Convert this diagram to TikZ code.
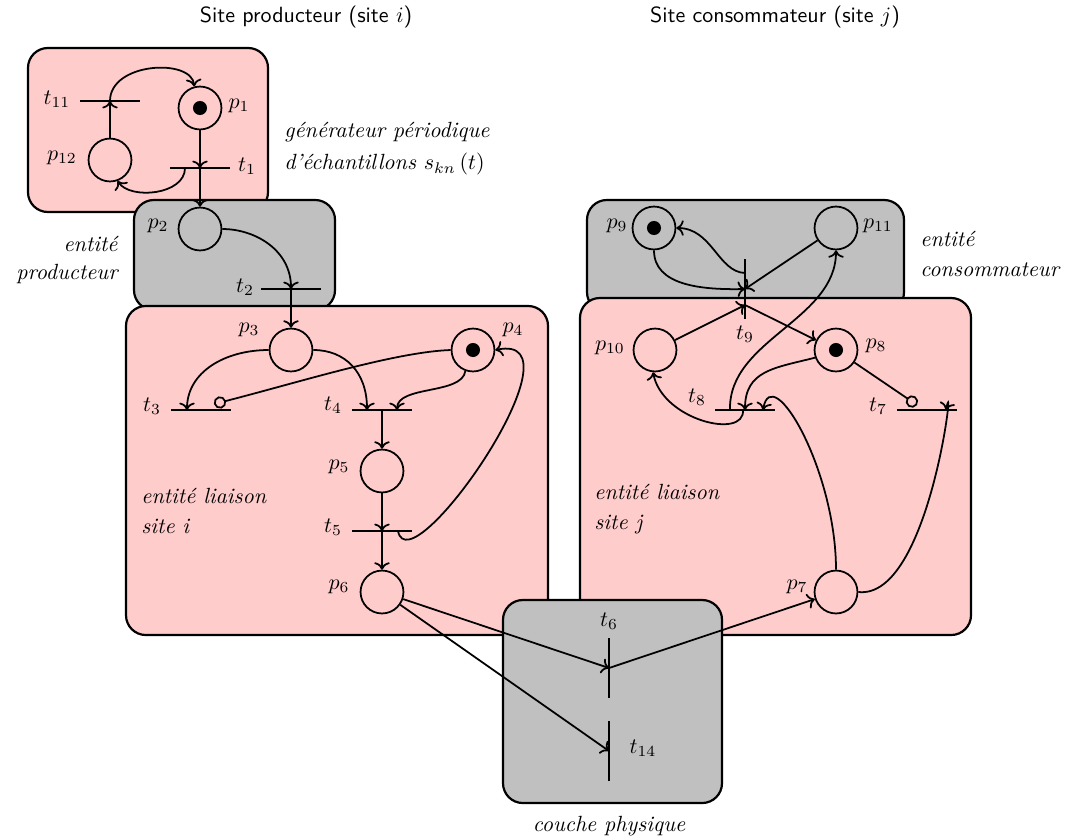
\documentclass[tikz,border=0pt]{standalone}
\usetikzlibrary{arrows.meta,calc}
\definecolor{pinkbg}{RGB}{255,204,204}
\definecolor{graybg}{RGB}{192,192,192}
\begin{document}
\begin{tikzpicture}[x=0.4545pt,y=-0.4545pt,
  box/.style={draw=black,line width=1pt,rounded corners=9pt},
  pinkbox/.style={box,fill=pinkbg},
  graybox/.style={box,fill=graybg},
  place/.style={circle,draw,line width=0.8pt,minimum size=19.5pt,inner sep=0pt},
  marked/.style={place,path picture={\fill[black] (path picture bounding box.center) circle (3.2pt);}},
  hbar/.style={rectangle,fill=black,inner sep=0pt,minimum width=27.3pt,minimum height=1.15pt},
  vbar/.style={rectangle,fill=black,inner sep=0pt,minimum width=1.15pt,minimum height=27.3pt},
  arc/.style={line width=0.8pt,->},
  inhib/.style={line width=0.8pt,-{Circle[open,length=5.6pt,width=5.6pt]}},
  lbl/.style={inner sep=0pt},
  note/.style={font=\itshape,inner sep=0pt}]
\useasboundingbox (0,0) rectangle (1068,838);

% boxes
\draw[pinkbox] (28,48) rectangle (268,212);
\draw[graybox] (134,200) rectangle (335,310);
\draw[pinkbox] (126,306) rectangle (548,635);
\draw[graybox] (587,200) rectangle (904,312);
\draw[pinkbox] (580,298) rectangle (971,635);
\draw[graybox] (503,600) rectangle (722,803);

% places
\node[marked] (p1) at (200,108) {};
\node[place] (p12) at (110,160) {};
\node[place] (p2) at (200,229) {};
\node[place] (p3) at (291,350) {};
\node[marked] (p4) at (473,350) {};
\node[place] (p5) at (382,471) {};
\node[place] (p6) at (382,592) {};
\node[marked] (p9) at (654,228) {};
\node[place] (p11) at (836,228) {};
\node[place] (p10) at (655,350) {};
\node[marked] (p8) at (836,350) {};
\node[place] (p7) at (836,592) {};

% transitions
\node[hbar] (t11) at (110,101) {};
\node[hbar] (t1) at (200,168) {};
\node[hbar] (t2) at (291,289) {};
\node[hbar] (t3) at (201,410) {};
\node[hbar] (t4) at (382,410) {};
\node[hbar] (t5) at (382,531) {};
\node[hbar] (t8) at (745,410) {};
\node[hbar] (t7) at (927,410) {};
\node[vbar] (t9) at (745,289) {};
\node[vbar] (t6) at (609,668) {};
\node[vbar] (t14) at (609,751) {};

% labels
\node[lbl] (lp1) at (239,106) {$p_{1}$};
\node[lbl] (lp12) at (62,158) {$p_{12}$};
\node[lbl] (lp2) at (158,226) {$p_{2}$};
\node[lbl] (lp3) at (249,330) {$p_{3}$};
\node[lbl] (lp4) at (513,330) {$p_{4}$};
\node[lbl] (lp5) at (339,467) {$p_{5}$};
\node[lbl] (lp6) at (339,587) {$p_{6}$};
\node[lbl] (lp9) at (617,226) {$p_{9}$};
\node[lbl] (lp11) at (878,226) {$p_{11}$};
\node[lbl] (lp10) at (610,348) {$p_{10}$};
\node[lbl] (lp8) at (876,346) {$p_{8}$};
\node[lbl] (lp7) at (797,587) {$p_{7}$};
\node[lbl] (lt11) at (57,99) {$t_{11}$};
\node[lbl] (lt1) at (247,166) {$t_{1}$};
\node[lbl] (lt2) at (245,287) {$t_{2}$};
\node[lbl] (lt3) at (152,406) {$t_{3}$};
\node[lbl] (lt4) at (333,405) {$t_{4}$};
\node[lbl] (lt5) at (333,527) {$t_{5}$};
\node[lbl] (lt8) at (697,397) {$t_{8}$};
\node[lbl] (lt7) at (878,406) {$t_{7}$};
\node[lbl] (lt9) at (745,334) {$t_{9}$};
\node[lbl] (lt6) at (609,621) {$t_{6}$};
\node[lbl] (lt14) at (643,748) {$t_{14}$};

% texts
\node[inner sep=0pt,font=\sffamily] (title1) at (306,17) {Site producteur (site $i$)};
\node[inner sep=0pt,font=\sffamily] (title2) at (775,17) {Site consommateur (site $j$)};
\node[note,anchor=west,align=left] (gen) at (284,149) {générateur périodique\\[2.5pt] d'échantillons $s_{kn}\left(t\right)$};
\node[note,anchor=east,align=right] (eprod) at (118,260) {entité\\[1pt] producteur};
\node[note,anchor=west,align=left] (econs) at (920,254) {entité\\[2pt] consommateur};
\node[note,anchor=west,align=left] (eli) at (141,511) {entité liaison\\[2pt] site i};
\node[note,anchor=west,align=left] (elj) at (594,509) {entité liaison\\[2pt] site j};
\node[note] (coph) at (609,826) {couche physique};

% arcs: generator
\draw[arc] (t11.center) .. controls (110,62) and (192,58) .. (p1.105);
\draw[arc] (p12) -- (t11.center);
\draw[arc] (p1) -- (t1.center);
\draw[arc] (t1.center) -- (p2);
\draw[arc] ($(t1)+(-15,0)$) .. controls (185,195) and (130,200) .. (p12.-70);
% producer
\draw[arc] (p2.east) .. controls (255,229) and (291,250) .. (t2.center);
\draw[arc] (t2.center) -- (p3);
% link site i
\draw[arc] (p3.west) .. controls (225,350) and (187,372) .. ($(t3)+(-14,0)$);
\draw[arc] (p3.east) .. controls (345,350) and (367,372) .. ($(t4)+(-15,0)$);
\draw[inhib] (p4.west) .. controls (395,352) and (300,382) .. ($(t3)+(13,-6)$);
\draw[arc] (p4.-110) .. controls (462,395) and (397,385) .. ($(t4)+(15,0)$);
\draw[arc] (t4.center) -- (p5);
\draw[arc] (p5) -- (t5.center);
\draw[arc] (t5.center) -- (p6);
\draw[arc] ($(t5)+(16,0)$) .. controls (410,590) and (590,330) .. (p4.east);
% physical layer
\draw[arc] (p6) -- (t6.center);
\draw[arc] (p6) -- (t14.center);
\draw[arc] (t6.center) -- (p7);
% consumer
\draw[arc] (p9.south) .. controls (654,285) and (700,290) .. (t9.center);
\draw[arc] ($(t9)+(0,-16)$) .. controls (718,272) and (712,228) .. (p9.east);
\draw[arc] (p11) -- (t9.center);
\draw[arc] (p10) -- ($(t9)+(0,16)$);
\draw[arc] ($(t9)+(0,16)$) -- (p8);
% link site j
\draw[arc] ($(t8)+(-15,0)$) .. controls (728,340) and (836,320) .. (p11.south);
\draw[arc] ($(t8)+(-2,0)$) .. controls (745,440) and (662,420) .. (p10.-95);
\draw[arc] (p8.200) .. controls (775,368) and (745,370) .. (t8.center);
\draw[arc] (p7.north) .. controls (836,470) and (772,360) .. ($(t8)+(18,0)$);
\draw[inhib] (p8) -- ($(t7)+(-10,-5)$);
\draw[arc] (p7.east) .. controls (930,600) and (956,362) .. ($(t7)+(19,0)$);
\end{tikzpicture}
\end{document}
